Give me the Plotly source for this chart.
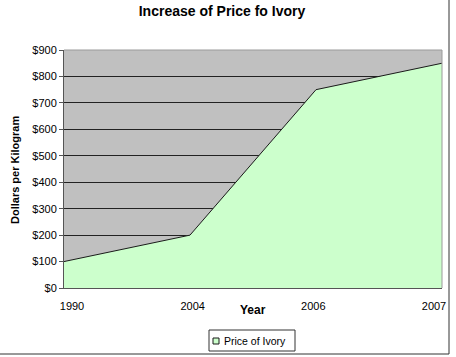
import plotly.graph_objects as go

years = ["1990", "2004", "2006", "2007"]
prices = [100, 200, 750, 850]
y_ticks = [0, 100, 200, 300, 400, 500, 600, 700, 800, 900]
y_tick_labels = ["$" + str(v) for v in y_ticks]
series_name = "Price of Ivory"

FONT = "Liberation Sans, Arial, sans-serif"
W, H = 456, 357
L, T, R, B = 64, 50, 442, 288
PW, PH = R - L, B - T


def px(x):
    return (x - L) / PW


def py(y):
    return (B - y) / PH


# label axis: Excel spreads the year labels slightly inside the plot edges
lab_first, lab_last = 72 - L, 434 - L
unit = (lab_last - lab_first) / (len(years) - 1)
lab_range = [-lab_first / unit, (PW - lab_first) / unit]

fig = go.Figure()
fig.add_trace(go.Scatter(
    x=years, y=prices, mode="lines", fill="tozeroy", name=series_name,
    fillcolor="#CCFFCC", line=dict(color="#1a1a1a", width=1),
    showlegend=False, hoverinfo="x+y"))
# transparent copy of the series that carries the year-label axis
fig.add_trace(go.Scatter(
    x=years, y=prices, mode="lines", xaxis="x2", opacity=0,
    line=dict(width=0), showlegend=False, hoverinfo="skip"))

fig.update_layout(
    width=W, height=H,
    margin=dict(l=L, r=W - R, t=T, b=H - B, autoexpand=False),
    paper_bgcolor="white", plot_bgcolor="#C0C0C0",
    font=dict(family=FONT, size=11, color="black"),
    title=dict(text="<b>Increase of Price fo Ivory</b>", xref="paper",
               x=px(222), xanchor="center",
               y=1 - 11 / H, yanchor="middle", font=dict(size=14, family=FONT)),
    xaxis=dict(type="category", range=[0, 3], showgrid=False, automargin=False,
               showline=True, linecolor="#555555", linewidth=1,
               showticklabels=False, ticks="",
               zeroline=False, fixedrange=True),
    xaxis2=dict(type="category", overlaying="x", anchor="y", side="bottom", range=lab_range,
                showgrid=False, showline=False, zeroline=False, automargin=False,
                ticks="outside", ticklen=8, tickcolor="rgba(0,0,0,0)",
                tickfont=dict(size=11), fixedrange=True),
    yaxis=dict(range=[0, 900], tickvals=y_ticks, ticktext=y_tick_labels, automargin=False,
               showgrid=True, gridcolor="#222222", gridwidth=1,
               showline=True, linecolor="#555555", linewidth=1,
               ticks="outside", ticklen=4, tickcolor="#555555",
               tickfont=dict(size=11), zeroline=False, fixedrange=True),
    showlegend=False,
    annotations=[
        dict(text="<b>Year</b>", xref="paper", yref="paper",
             x=px(253), y=py(310), showarrow=False,
             xanchor="center", yanchor="middle", font=dict(size=12)),
        dict(text="<b>Dollars per Kilogram</b>", xref="paper", yref="paper",
             x=px(15), y=py(170), showarrow=False, textangle=-90,
             xanchor="center", yanchor="middle", font=dict(size=11)),
        dict(text=series_name, xref="paper", yref="paper",
             x=px(222), y=py(341), showarrow=False,
             xanchor="left", yanchor="middle", font=dict(size=10.5)),
    ],
    shapes=[
        dict(type="line", xref="paper", yref="paper", x0=0, x1=1, y0=1, y1=1,
             line=dict(color="#9a9a9a", width=1), layer="above"),
        dict(type="line", xref="paper", yref="paper", x0=1, x1=1, y0=0, y1=1,
             line=dict(color="#9a9a9a", width=1), layer="above"),
        # outer chart border (right and bottom)
        dict(type="line", xref="paper", yref="paper", x0=px(449), x1=px(449),
             y0=py(354), y1=py(0), line=dict(color="#333333", width=1)),
        dict(type="line", xref="paper", yref="paper", x0=px(0), x1=px(449),
             y0=py(354), y1=py(354), line=dict(color="#333333", width=1)),
        # legend box
        dict(type="rect", xref="paper", yref="paper", x0=px(209), x1=px(295),
             y0=py(351), y1=py(330), line=dict(color="#333333", width=1),
             fillcolor="white"),
        dict(type="rect", xref="paper", yref="paper", x0=px(213), x1=px(219),
             y0=py(344), y1=py(338), line=dict(color="#1a1a1a", width=1),
             fillcolor="#CCFFCC"),
    ],
)

fig.write_html("out.html", config={"displayModeBar": False},
               post_script="document.body.style.margin='0px';document.body.style.overflow='hidden';")
